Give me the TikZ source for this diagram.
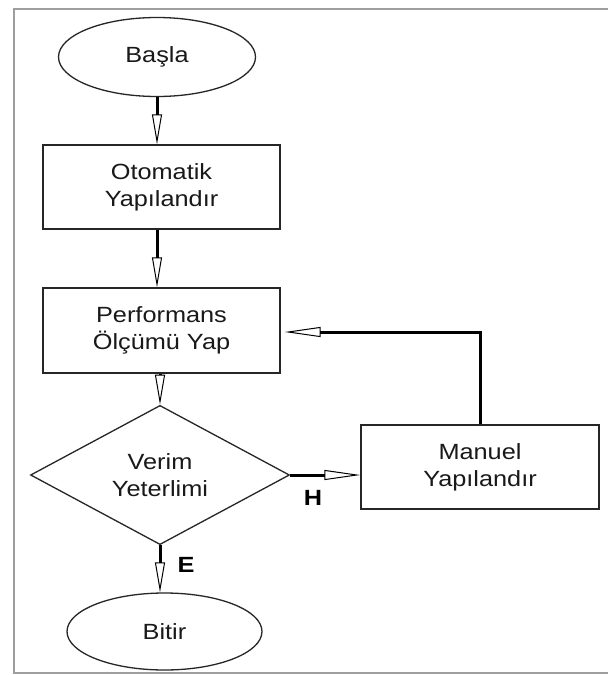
\documentclass[tikz,border=0pt]{standalone}
\usepackage{fontspec}
\setmainfont{Liberation Sans}[FakeStretch=1.15]
\usetikzlibrary{shapes.geometric,arrows.meta}
\begin{document}
\begin{tikzpicture}[x=1pt,y=-1pt,
  box/.style={draw=black!85, line width=1.3pt, fill=white, inner sep=0pt, align=center, text=black!90,
    font=\fontsize{22}{27}\selectfont},
  term/.style={box, ellipse},
  dec/.style={box, diamond},
  conn/.style={line width=3pt, black},
  vhead/.style={-{Triangle[open, length=30pt, width=10pt, line width=1pt]}},
  hhead/.style={-{Triangle[open, length=36pt, width=10pt, line width=1pt]}},
  lab/.style={font=\fontsize{22}{24}\selectfont\bfseries, text=black, inner sep=0pt}
]
\useasboundingbox (0,0) rectangle (608,675);
\fill[white] (0,0) rectangle (608,675);
\draw[black!38, line width=2pt] (608,9) -- (14,9) -- (14,673) -- (608,673);

\node[term, minimum width=197pt, minimum height=79pt] (start) at (157,57) {Başla};
\node[box, minimum width=237pt, minimum height=84pt] (oto) at (161.5,187) {Otomatik\\Yapılandır};
\node[box, minimum width=237pt, minimum height=85pt] (perf) at (161.5,330.5) {Performans\\Ölçümü Yap};
\node[dec, minimum width=259pt, minimum height=120pt] (verim) at (160,475) {Verim\\Yeterlimi};
\node[box, minimum width=238pt, minimum height=84pt] (man) at (480,467) {Manuel\\Yapılandır};
\node[term, minimum width=195pt, minimum height=77pt] (end) at (164.5,631.5) {Bitir};

\coordinate (c1) at (480,332);

\draw[conn, vhead] (start.south) -- (start.south |- oto.north);
\draw[conn, vhead] (oto.south -| start.south) -- (start.south |- perf.north);
\draw[conn, vhead] (verim.north |- perf.south) -- (verim.north);
\draw[conn, vhead] (verim.south) -- (verim.south |- end.north);
\draw[conn, hhead] (verim.east) -- (man.west |- verim.east);
\draw[conn, hhead] (man.north) -- (c1) -- ([xshift=4pt]perf.east |- c1);

\node[lab] (h) at (313,498) {H};
\node[lab] (e) at (186,565) {E};
\end{tikzpicture}
\end{document}
